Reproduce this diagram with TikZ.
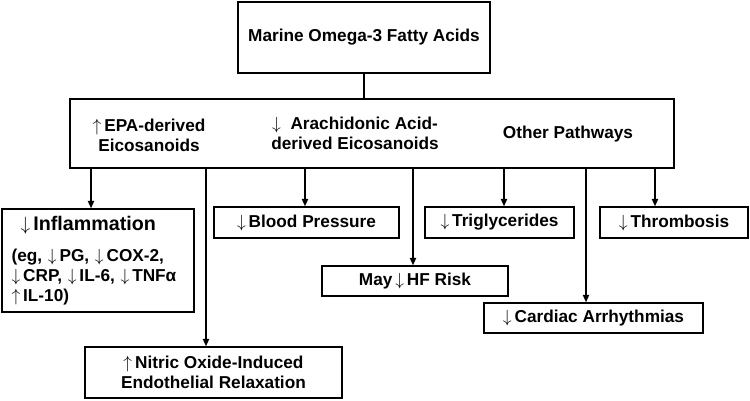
\documentclass[tikz,border=0pt]{standalone}
\usepackage{fontspec}
\setmainfont{Liberation Sans}
\usetikzlibrary{arrows.meta}
\newcommand{\dn}{\ensuremath{\downarrow}}
\newcommand{\up}{\ensuremath{\uparrow}}

\begin{document}
\begin{tikzpicture}[x=0.02cm, y=-0.02cm,
    font=\bfseries\fontsize{9.8}{11.4}\selectfont,
    box/.style={draw, line width=0.9pt, align=center, inner sep=0pt},
    link/.style={line width=0.8pt},
    arr/.style={link, -{Triangle[length=4.2pt, width=3.6pt]}}]
        % Fix the frame
        \useasboundingbox (0,0) rectangle (750,400);
        % Draw the top box and the pathway box
        \node[box, minimum width=5.04cm, minimum height=1.42cm] (top) at (364,37.5) {Marine Omega-3 Fatty Acids};
        \node[box, minimum width=12.08cm, minimum height=1.38cm] (mid) at (372,133.5) {};
        \node[align=center] (epa) at (149,135) {\up\,EPA-derived\\Eicosanoids};
        \node[align=center] (ara) at (355,133) {\dn\ \ Arachidonic Acid-\\derived Eicosanoids};
        \node (other) at (568,134) {Other Pathways};
        \draw[link] (top.south) -- (top.south |- mid.north);
        % Draw the effect boxes
        \node[box, align=left, text width=3.46cm, inner xsep=0.19cm, minimum height=2.06cm] (infl) at (98,260.5)
            {{\fontsize{11.2}{13}\selectfont\hspace{0.18cm}\dn\,Inflammation}\\[6pt]
             (eg, \dn\,PG, \dn\,COX-2,\\ \dn\,CRP, \dn\,IL-6, \dn\,TNFα\\ \up\,IL-10)};
        \node[box, minimum width=5.14cm, minimum height=1.02cm] (nitric) at (213.5,372.5) {\up\,Nitric Oxide-Induced\\Endothelial Relaxation};
        \node[box, minimum width=3.7cm, minimum height=0.62cm] (bp) at (306.5,222.5) {\dn\,Blood Pressure};
        \node[box, minimum width=3.72cm, minimum height=0.6cm] (hf) at (415,281) {May\,\dn\,HF Risk};
        \node[box, minimum width=2.98cm, minimum height=0.62cm] (trig) at (499.5,222.5) {\dn\,Triglycerides};
        \node[box, minimum width=4.38cm, minimum height=0.6cm] (card) at (593.5,318) {\dn\,Cardiac Arrhythmias};
        \node[box, minimum width=2.96cm, minimum height=0.62cm] (thromb) at (674,222.5) {\dn\,Thrombosis};
        % Draw the arrows
        \foreach \x/\t in {91/infl, 206/nitric, 305/bp, 413/hf, 504/trig, 586/card, 655/thromb} {
            \coordinate (c) at (\x,0);
            \draw[arr] (c |- mid.south) -- (c |- \t.north);
        }
\end{tikzpicture}
\end{document}
